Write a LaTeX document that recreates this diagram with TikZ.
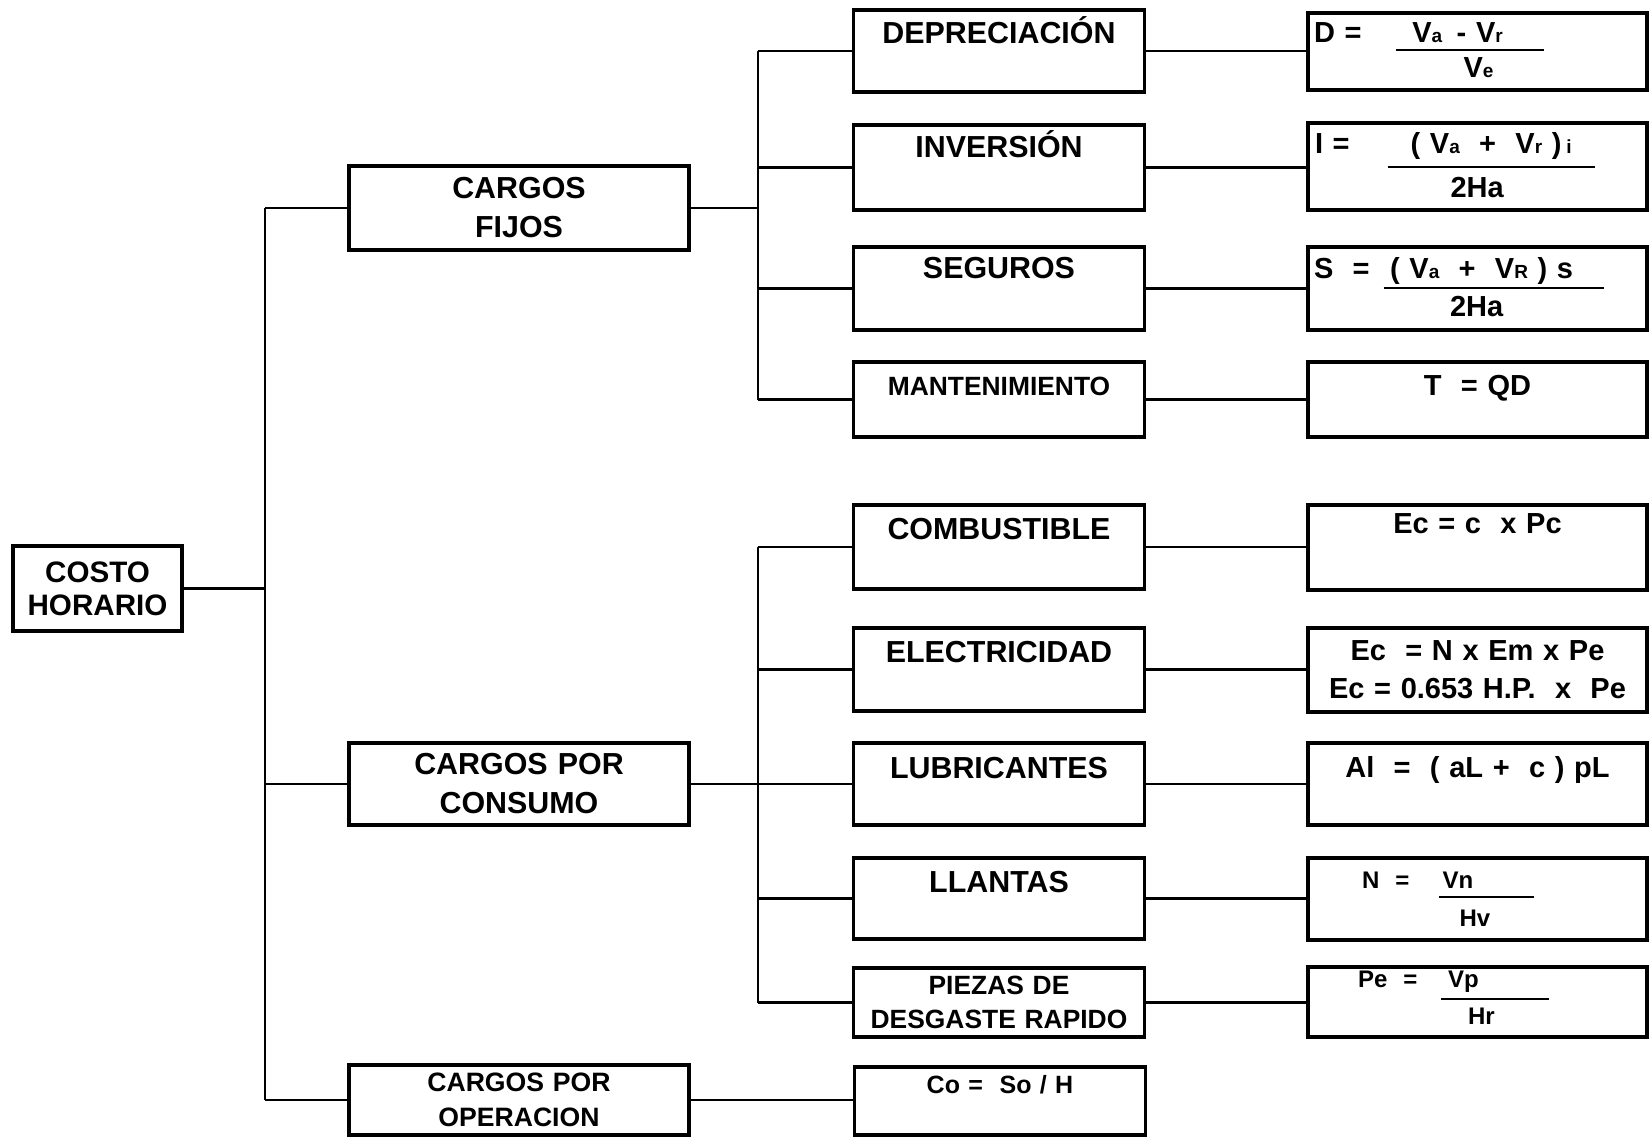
\documentclass[tikz,border=0pt]{standalone}
\usepackage{fontspec}
\setmainfont{Liberation Sans}
\newcommand\sub[1]{{\fontsize{9.5}{10}\selectfont #1}}
\newcommand\fr[5]{\vtop{\hbox to #3{\hss\smash{#1}\hss}\kern#4\hrule height 1.1pt\kern#5\hbox to #3{\hss\smash{#2}\hss}}}
\begin{document}
\begin{tikzpicture}[x=0.5pt, y=-0.5pt,
  box/.style={draw, line width=1.9pt, inner sep=0pt, align=center},
  col1/.style={box, text width=170pt},
  col2/.style={box, text width=145.5pt},
  col3/.style={box, text width=169.5pt},
  big/.style={font=\fontsize{15.2}{19.5}\selectfont\bfseries},
  sml/.style={font=\fontsize{13.2}{17}\selectfont\bfseries},
  frm/.style={font=\fontsize{14.5}{19}\selectfont\bfseries},
  frs/.style={font=\fontsize{12}{15}\selectfont\bfseries},
  lnk/.style={line width=1.2pt}]
\useasboundingbox (0,0) rectangle (1650,1137);
\node[box, text width=84.5pt, minimum height=42.5pt, font=\fontsize{14.8}{16.5}\selectfont\bfseries] (costo) at (97.5,588.5) {COSTO\\HORARIO};
\node[col1, big, minimum height=42pt] (fijos) at (519,208) {CARGOS\\FIJOS};
\node[col1, big, minimum height=41pt] (consumo) at (519,784) {CARGOS POR\\CONSUMO};
\node[col1, minimum height=35pt, font=\fontsize{13.3}{17.5}\selectfont\bfseries] (oper) at (519,1100) {CARGOS POR\\OPERACION};
\node[col2, big, text height=16.5pt, text depth=24.5pt] (dep) at (999,51) {DEPRECIACIÓN};
\node[col2, big, text height=16pt, text depth=26.5pt] (inv) at (999,167.5) {INVERSIÓN};
\node[col2, big, text height=15.5pt, text depth=26pt] (seg) at (999,288.5) {SEGUROS};
\node[col2, sml, text height=16.5pt, text depth=21pt] (man) at (999,399.5) {MANTENIMIENTO};
\node[col2, big, text height=17pt, text depth=25pt] (comb) at (999,547) {COMBUSTIBLE};
\node[col2, big, text height=17pt, text depth=24.5pt] (elec) at (999,669.5) {ELECTRICIDAD};
\node[col2, big, text height=17.5pt, text depth=23.5pt] (lub) at (999,784) {LUBRICANTES};
\node[col2, big, text height=17pt, text depth=23.5pt] (llan) at (999,898.5) {LLANTAS};
\node[col2, sml, minimum height=34.5pt] (piez) at (999,1002.5) {PIEZAS DE\\DESGASTE RAPIDO};
\node[col2, font=\fontsize{12.5}{15}\selectfont\bfseries, text height=13pt, text depth=21pt] (co) at (1000,1101) {Co =\ \ So / H};
\node[col3, frm, align=left, text height=14.5pt, text depth=24pt] (fd) at (1477.5,51.5)
  {\hspace*{3pt}D =\hspace{17pt}\fr{V\sub{a}\ \,-\ V\sub{r}\hspace{12pt}}{\hspace{9pt}V\sub{e}}{74pt}{3.5pt}{13pt}};
\node[col3, frm, align=left, text height=15pt, text depth=28.5pt] (fi) at (1477.5,166.5)
  {\hspace*{3.5pt}I =\hspace{19pt}\fr{(\ V\sub{a}\ \ +\ \ V\sub{r}\ )\,\sub{i}}{2Ha\hspace{14pt}}{103.5pt}{6.5pt}{14.5pt}};
\node[col3, frm, align=left, text height=15.5pt, text depth=26pt] (fs) at (1477.5,288.5)
  {\hspace*{3pt}S\ \ =\hspace{7pt}\fr{(\ V\sub{a}\ \ +\ \ V\sub{R}\ )\ s\hspace{12pt}}{2Ha\hspace{17pt}}{110pt}{4.5pt}{13.5pt}};
\node[col3, frm, text height=16.5pt, text depth=21pt] (ft) at (1477.5,399.5) {T\ \ = QD};
\node[col3, frm, text height=14pt, text depth=28.5pt] (fe) at (1477.5,547.5) {Ec = c\ \ x Pc};
\node[col3, frm, minimum height=42pt] (fel) at (1477.5,670) {Ec\ \ = N x Em x Pe\\Ec = 0.653 H.P.\ \ x\ \ Pe};
\node[col3, frm, text height=17pt, text depth=24pt] (fa) at (1477.5,784) {Al\ \ =\ \ ( aL +\ \ c ) pL};
\node[col3, frs, align=left, text height=15pt, text depth=26pt] (fn) at (1477.5,899)
  {\hspace*{27pt}N\ \ =\hspace{15pt}\fr{Vn\hspace{29pt}}{Hv\hspace{12pt}}{47.5pt}{4pt}{14pt}};
\node[col3, frs, align=left, text height=10pt, text depth=25pt] (fp) at (1477.5,1002)
  {\hspace*{25pt}Pe\ \ =\hspace{12pt}\fr{Vp\hspace{32pt}}{Hr\hspace{14pt}}{54pt}{5.5pt}{12pt}};
\coordinate (tr) at (265,0);
\coordinate (br) at (758,0);
\draw[lnk] (costo.east) -- (costo.east -| tr);
\draw[lnk] (fijos.west -| tr) -- (oper.west -| tr);
\foreach \n in {fijos,consumo,oper} \draw[lnk] (\n.west -| tr) -- (\n.west);
\draw[lnk] (fijos.east) -- (fijos.east -| br);
\draw[lnk] (dep.west -| br) -- (man.west -| br);
\foreach \n in {dep,inv,seg,man} \draw[lnk] (\n.west -| br) -- (\n.west);
\draw[lnk] (consumo.east) -- (consumo.east -| br);
\draw[lnk] (comb.west -| br) -- (piez.west -| br);
\foreach \n in {comb,elec,lub,llan,piez} \draw[lnk] (\n.west -| br) -- (\n.west);
\draw[lnk] (oper.east) -- (oper.east -| co.west);
\foreach \a/\b in {dep/fd,inv/fi,seg/fs,man/ft,comb/fe,elec/fel,lub/fa,llan/fn,piez/fp}
  \draw[lnk] (\a.east) -- (\a.east -| \b.west);
\end{tikzpicture}
\end{document}
